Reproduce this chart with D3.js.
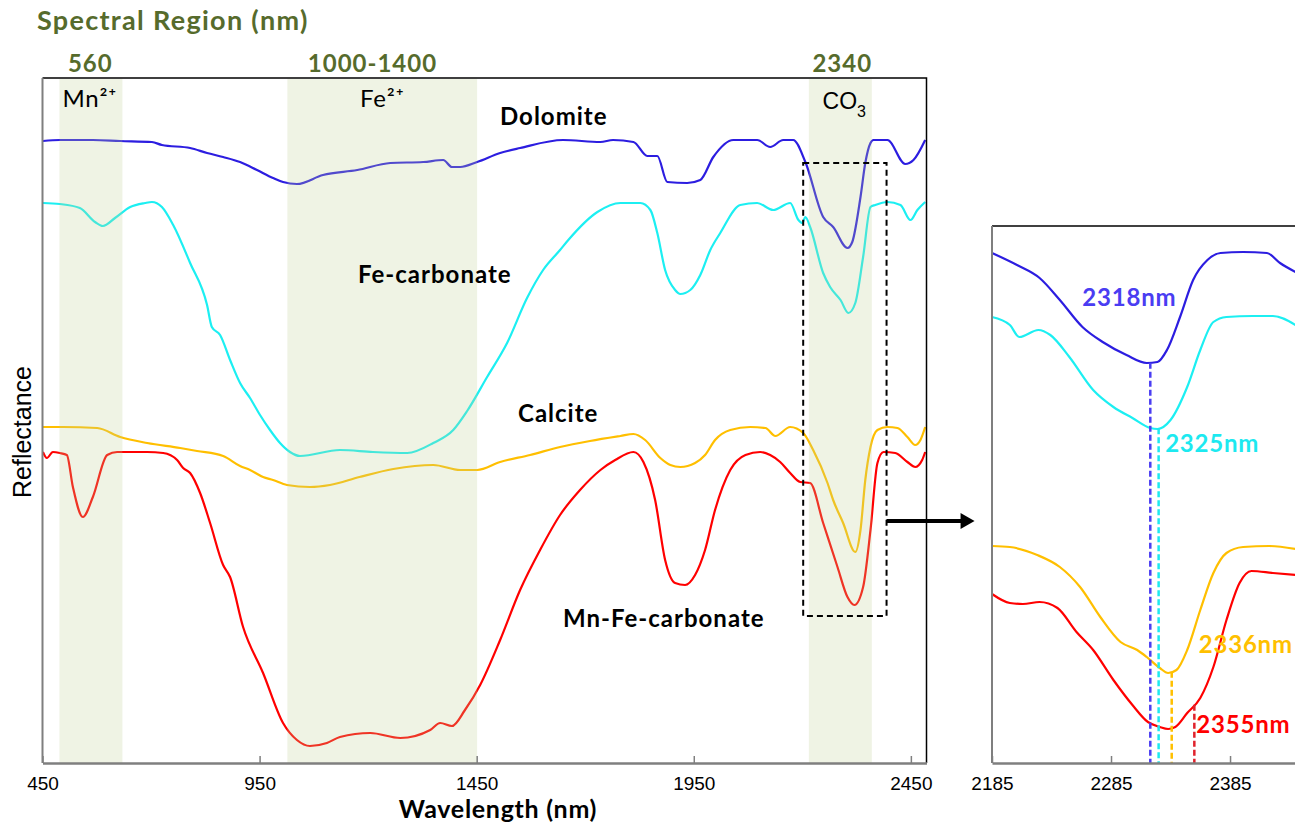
<!DOCTYPE html>
<html>
<head>
<meta charset="utf-8">
<script src="https://cdn.jsdelivr.net/npm/d3@7"></script>
<style>
  html, body { margin: 0; padding: 0; background: #fff; }
  svg { display: block; }
</style>
</head>
<body>
<svg id="chart" width="1295" height="825"></svg>
<script>
// ---- Spectra: [wavelength nm, reflectance (offset, arbitrary units)] ----
const dolomite = [[451,62.2],[490,62.3],[566,62.3],[629,62.2],[702,62.1],[725,61.8],[790,61.5],[829,61.0],[866,60.6],[905,60.1],[944,59.3],[981,58.5],[1004,58.1],[1036,57.9],[1096,58.8],[1175,59.3],[1251,60.0],[1327,60.1],[1373,60.3],[1393,59.6],[1412,59.6],[1451,60.1],[1504,61.0],[1550,61.5],[1649,62.3],[1735,62.1],[1764,62.3],[1811,62.1],[1843,60.7],[1866,60.7],[1889,58.1],[1935,58.0],[1965,58.3],[1995,60.6],[2041,62.3],[2096,62.3],[2126,61.6],[2156,62.3],[2179,62.3],[2207,60.1],[2248,54.6],[2271,53.6],[2304,51.5],[2315,52.1],[2334,56.6],[2345,60.0],[2357,62.0],[2364,62.3],[2396,62.3],[2437,59.9],[2456,60.3],[2483,62.3]];

const feCarbonate = [[451,56.0],[490,55.9],[536,55.5],[571,54.1],[589,53.7],[617,54.5],[652,55.6],[686,56.0],[702,56.1],[725,55.6],[751,53.8],[790,50.0],[829,45.8],[840,43.6],[859,42.8],[882,40.3],[905,38.0],[928,36.5],[951,34.8],[974,33.3],[997,32.0],[1020,31.1],[1043,30.7],[1135,31.3],[1211,31.1],[1290,31.0],[1350,32.0],[1396,33.3],[1428,35.2],[1474,38.6],[1520,42.0],[1566,46.5],[1603,49.3],[1642,51.3],[1661,52.3],[1728,55.1],[1781,56.0],[1827,56.0],[1850,55.3],[1866,53.0],[1884,49.3],[1907,47.3],[1919,46.9],[1942,47.3],[1965,48.8],[1988,51.3],[2011,53.0],[2057,55.8],[2096,56.0],[2133,55.3],[2172,56.0],[2191,54.3],[2200,54.0],[2207,54.6],[2218,53.6],[2248,49.0],[2264,47.6],[2288,46.3],[2306,45.0],[2322,46.0],[2340,50.6],[2357,55.6],[2368,55.8],[2396,56.1],[2426,55.8],[2449,54.3],[2465,55.3],[2483,56.1]];

const calcite = [[451,33.6],[497,33.6],[576,33.5],[629,32.6],[691,32.0],[767,31.5],[806,31.2],[866,30.7],[905,29.7],[928,29.3],[958,28.6],[981,28.3],[1013,27.8],[1066,27.6],[1112,27.8],[1180,28.6],[1258,29.4],[1350,29.8],[1412,29.3],[1451,29.3],[1504,30.1],[1573,30.8],[1642,31.6],[1711,32.2],[1781,32.7],[1811,32.9],[1838,32.3],[1873,30.5],[1896,29.8],[1919,29.6],[1953,30.0],[1976,30.8],[1999,32.3],[2034,33.3],[2080,33.6],[2115,33.5],[2138,32.7],[2172,33.6],[2202,33.0],[2225,31.3],[2258,28.0],[2271,26.3],[2294,24.0],[2322,21.1],[2334,23.3],[2345,28.3],[2357,31.6],[2373,33.3],[2396,33.6],[2419,33.5],[2442,32.6],[2460,31.8],[2472,32.3],[2483,33.6]];

const mnFeCarbonate = [[451,31.1],[460,30.5],[474,31.1],[490,31.0],[506,30.8],[520,27.6],[543,24.6],[566,26.6],[599,30.8],[622,31.1],[691,31.1],[728,31.0],[760,30.3],[774,29.5],[790,29.0],[813,27.0],[836,24.0],[866,19.8],[882,18.6],[912,13.6],[958,9.0],[1004,4.0],[1036,2.3],[1066,1.7],[1105,2.0],[1135,2.6],[1205,3.0],[1274,2.5],[1343,3.3],[1366,4.0],[1393,3.7],[1423,5.3],[1458,7.8],[1504,12.3],[1550,17.3],[1596,21.3],[1642,24.8],[1688,27.3],[1735,29.3],[1769,30.3],[1811,31.1],[1834,30.1],[1861,26.3],[1884,20.3],[1907,18.0],[1930,17.8],[1953,18.8],[1976,21.3],[1999,25.3],[2034,29.3],[2069,30.8],[2103,31.1],[2126,30.8],[2149,30.1],[2172,29.0],[2195,28.1],[2218,28.0],[2248,24.0],[2281,19.6],[2304,16.6],[2320,15.8],[2340,17.6],[2357,23.3],[2373,30.0],[2387,31.1],[2414,31.0],[2442,30.1],[2460,29.6],[2476,30.3],[2483,31.1]];

// ---- CO3 feature, enlarged (2185-2440 nm) ----
const insetDolomite = [[2185,51.0],[2206,49.8],[2225,48.5],[2242,46.3],[2261,43.6],[2278,42.1],[2298,40.8],[2315,40.0],[2324,40.1],[2332,41.3],[2343,44.6],[2354,48.3],[2366,50.3],[2377,51.0],[2396,51.1],[2416,51.0],[2427,50.0],[2440,49.1]];
const insetFe = [[2185,44.6],[2200,43.8],[2208,42.6],[2224,43.3],[2234,42.8],[2250,40.6],[2270,37.3],[2287,35.6],[2303,34.5],[2318,33.5],[2324,33.4],[2335,34.3],[2349,37.6],[2360,41.3],[2371,44.1],[2382,44.6],[2404,44.7],[2421,44.7],[2440,43.8]];
const insetCalcite = [[2185,21.7],[2200,21.6],[2223,20.8],[2242,19.6],[2259,17.6],[2276,14.6],[2293,12.1],[2307,11.3],[2315,10.6],[2326,9.5],[2333,9.0],[2340,9.3],[2349,11.3],[2360,15.3],[2371,19.0],[2382,21.0],[2396,21.6],[2418,21.7],[2440,21.4]];
const insetMnFe = [[2185,16.9],[2200,16.0],[2211,15.9],[2225,16.1],[2240,15.5],[2256,13.1],[2270,11.3],[2287,8.3],[2303,5.8],[2316,4.1],[2326,3.6],[2333,3.4],[2339,3.6],[2349,5.0],[2360,6.5],[2371,9.6],[2382,14.3],[2393,18.0],[2403,19.2],[2421,19.0],[2440,18.8]];

// Absorption minima picked for each mineral (nm)
const minima = [2318, 2325, 2336, 2355];

// Spectral regions of interest
const regions = [[489, 634], [1014, 1451], [2215, 2360]];
const regionHeadings = ["560", "1000-1400", "2340"];
const regionHeadingNm = [560, 1210, 2292];
const regionIons = ["Mn²⁺", "Fe²⁺", "CO"];

const seriesNames = ["Dolomite", "Fe-carbonate", "Calcite", "Mn-Fe-carbonate"];
const mainTicks = [450, 950, 1450, 1950, 2450];
const insetTicks = [2185, 2285, 2385];

// ---- styles ----
const colors = ["#2c1de0", "#1ceff2", "#ffbf00", "#ff0000"];
const minimaColors = ["#4a3df2", "#1de9f0", "#ffc000", "#e0222c"];
const minimaTextColors = ["#4a3df2", "#1de9f0", "#ffc000", "#ff0000"];
const labelFont = "Lato, 'Open Sans', sans-serif";
const plainFont = "'Liberation Sans', Arial, sans-serif";
const olive = "#566b2c";
const axisGray = "#7f7f7f";

const svg = d3.select("#chart");

// ---- main panel scales ----
const x = d3.scaleLinear().domain([450, 2486]).range([42.5, 926.5]);
const y = d3.scaleLinear().domain([0, 68.5]).range([763, 78]);
const line = d3.line().x(d => x(d[0])).y(d => y(d[1])).curve(d3.curveMonotoneX);

const main = svg.append("g");

main.selectAll("path.spec")
  .data([dolomite, feCarbonate, calcite, mnFeCarbonate])
  .join("path")
  .attr("class", "spec")
  .attr("d", line)
  .attr("fill", "none")
  .attr("stroke", (d, i) => colors[i])
  .attr("stroke-width", 2.2)
  .attr("stroke-linejoin", "round");

// translucent region bands laid over the spectra
main.selectAll("rect.band")
  .data(regions)
  .join("rect")
  .attr("class", "band")
  .attr("x", d => x(d[0]))
  .attr("width", d => x(d[1]) - x(d[0]))
  .attr("y", y.range()[1] + 1)
  .attr("height", y.range()[0] - y.range()[1] - 1)
  .attr("fill", "rgb(191,207,147)")
  .attr("fill-opacity", 0.25);

// frame: black top/right, grey axes
main.append("path")
  .attr("d", `M${x.range()[0]},${y.range()[1]}H${x.range()[1]}V${y.range()[0]}`)
  .attr("fill", "none").attr("stroke", "#000").attr("stroke-width", 1.5);

const xAxis = d3.axisBottom(x).tickValues(mainTicks).tickFormat(d3.format("d"))
  .tickSizeInner(-7).tickSizeOuter(0).tickPadding(14);
const gx = main.append("g").attr("transform", `translate(0,${y.range()[0]})`).call(xAxis);
gx.select(".domain").attr("stroke", axisGray).attr("stroke-width", 2.5);
gx.selectAll(".tick line").attr("stroke", axisGray).attr("stroke-width", 1.5);
gx.selectAll(".tick text").attr("font-family", plainFont).attr("font-size", 19).attr("fill", "#000");

main.append("line")
  .attr("x1", x.range()[0]).attr("x2", x.range()[0])
  .attr("y1", y.range()[1]).attr("y2", y.range()[0])
  .attr("stroke", axisGray).attr("stroke-width", 2);

// axis titles
main.append("text")
  .attr("x", 498).attr("y", 818)
  .attr("text-anchor", "middle")
  .attr("font-family", labelFont).attr("font-weight", 700).attr("font-size", 25)
  .attr("letter-spacing", 0.7)
  .text("Wavelength (nm)");

main.append("text")
  .attr("transform", "translate(31,432) rotate(-90)")
  .attr("text-anchor", "middle")
  .attr("font-family", plainFont).attr("font-size", 25)
  .text("Reflectance");

// region headings
svg.append("text")
  .attr("x", 37).attr("y", 30)
  .attr("font-family", labelFont).attr("font-weight", 700).attr("font-size", 27)
  .attr("letter-spacing", 1.3)
  .attr("fill", olive)
  .text("Spectral Region (nm)");

svg.selectAll("text.heading")
  .data(regionHeadings)
  .join("text")
  .attr("class", "heading")
  .attr("x", (d, i) => x(regionHeadingNm[i]))
  .attr("y", 72)
  .attr("text-anchor", "middle")
  .attr("font-family", labelFont).attr("font-weight", 700).attr("font-size", 24)
  .attr("letter-spacing", 1)
  .attr("fill", olive)
  .text(d => d);

// ion labels inside the bands
main.append("text")
  .attr("x", x(regions[0][0]) + 3).attr("y", 107)
  .attr("font-family", labelFont).attr("font-size", 24)
  .attr("letter-spacing", 0.8)
  .text(regionIons[0]);
main.append("text")
  .attr("x", (x(regions[1][0]) + x(regions[1][1])) / 2).attr("y", 107)
  .attr("text-anchor", "middle")
  .attr("font-family", labelFont).attr("font-size", 24)
  .attr("letter-spacing", 0.8)
  .text(regionIons[1]);
const co3 = main.append("text")
  .attr("x", (x(regions[2][0]) + x(regions[2][1])) / 2 + 4).attr("y", 109)
  .attr("text-anchor", "middle")
  .attr("font-family", plainFont).attr("font-size", 23);
co3.append("tspan").text(regionIons[2]);
co3.append("tspan").attr("font-size", 16).attr("dy", 8).text("3");

// mineral names
const nameAnchors = [[500, 125], [358, 283], [518, 422], [563, 627]];
main.selectAll("text.name")
  .data(seriesNames)
  .join("text")
  .attr("class", "name")
  .attr("x", (d, i) => nameAnchors[i][0])
  .attr("y", (d, i) => nameAnchors[i][1])
  .attr("font-family", labelFont).attr("font-weight", 700).attr("font-size", 24)
  .attr("letter-spacing", 1)
  .attr("fill", "#000")
  .text(d => d);

// window around the CO3 feature and the pointer to the enlargement
const zoomWindow = { nm: [2202, 2394], val: [14.7, 60.0] };
main.append("rect")
  .attr("x", x(zoomWindow.nm[0])).attr("y", y(zoomWindow.val[1]))
  .attr("width", x(zoomWindow.nm[1]) - x(zoomWindow.nm[0]))
  .attr("height", y(zoomWindow.val[0]) - y(zoomWindow.val[1]))
  .attr("fill", "none").attr("stroke", "#000").attr("stroke-width", 2)
  .attr("stroke-dasharray", "6,4");

const arrowY = y(24.2);
const arrowX0 = x(zoomWindow.nm[1]);
main.append("line")
  .attr("x1", arrowX0).attr("x2", arrowX0 + 76)
  .attr("y1", arrowY).attr("y2", arrowY)
  .attr("stroke", "#000").attr("stroke-width", 4);
main.append("path")
  .attr("d", `M${arrowX0 + 74},${arrowY - 8}L${arrowX0 + 88},${arrowY}L${arrowX0 + 74},${arrowY + 8}Z`)
  .attr("fill", "#000");

// ---- enlarged CO3 panel ----
const xi = d3.scaleLinear().domain([2185, 2440]).range([992, 1295.5]);
const yi = d3.scaleLinear().domain([0, 53.7]).range([763, 226]);
const lineI = d3.line().x(d => xi(d[0])).y(d => yi(d[1])).curve(d3.curveMonotoneX);
const insetSeries = [insetDolomite, insetFe, insetCalcite, insetMnFe];

const inset = svg.append("g");

inset.selectAll("path.ispec")
  .data(insetSeries)
  .join("path")
  .attr("class", "ispec")
  .attr("d", lineI)
  .attr("fill", "none")
  .attr("stroke", (d, i) => colors[i])
  .attr("stroke-width", 2.2);

// value of a spectrum at a wavelength (linear between samples)
function valueAt(series, nm) {
  const i = d3.bisector(d => d[0]).left(series, nm);
  if (i <= 0) return series[0][1];
  if (i >= series.length) return series[series.length - 1][1];
  const a = series[i - 1], b = series[i];
  return a[1] + (b[1] - a[1]) * (nm - a[0]) / (b[0] - a[0]);
}

inset.selectAll("line.minimum")
  .data(minima)
  .join("line")
  .attr("class", "minimum")
  .attr("x1", d => xi(d)).attr("x2", d => xi(d))
  .attr("y1", (d, i) => yi(valueAt(insetSeries[i], d)))
  .attr("y2", yi(0))
  .attr("stroke", (d, i) => minimaColors[i])
  .attr("stroke-width", 2.5)
  .attr("stroke-dasharray", "6,3");

const minimaLabelPos = [[-68, 306], [6.5, 452], [27, 653], [2, 733]];
inset.selectAll("text.minimum")
  .data(minima)
  .join("text")
  .attr("class", "minimum")
  .attr("x", (d, i) => xi(d) + minimaLabelPos[i][0])
  .attr("y", (d, i) => minimaLabelPos[i][1])
  .attr("font-family", labelFont).attr("font-weight", 700).attr("font-size", 24)
  .attr("letter-spacing", 0.8)
  .attr("fill", (d, i) => minimaTextColors[i])
  .text(d => d + "nm");

inset.append("line")
  .attr("x1", 992).attr("x2", 1295).attr("y1", 226).attr("y2", 226)
  .attr("stroke", "#000").attr("stroke-width", 1.5);
inset.append("line")
  .attr("x1", 992).attr("x2", 992).attr("y1", 226).attr("y2", 763)
  .attr("stroke", axisGray).attr("stroke-width", 2);

const xiAxis = d3.axisBottom(xi).tickValues(insetTicks).tickFormat(d3.format("d"))
  .tickSizeInner(-7).tickSizeOuter(0).tickPadding(14);
const gxi = inset.append("g").attr("transform", `translate(0,${yi(0)})`).call(xiAxis);
gxi.select(".domain").attr("stroke", axisGray).attr("stroke-width", 2.5);
gxi.selectAll(".tick line").attr("stroke", axisGray).attr("stroke-width", 1.5);
gxi.selectAll(".tick text").attr("font-family", plainFont).attr("font-size", 19).attr("fill", "#000");
</script>
</body>
</html>
